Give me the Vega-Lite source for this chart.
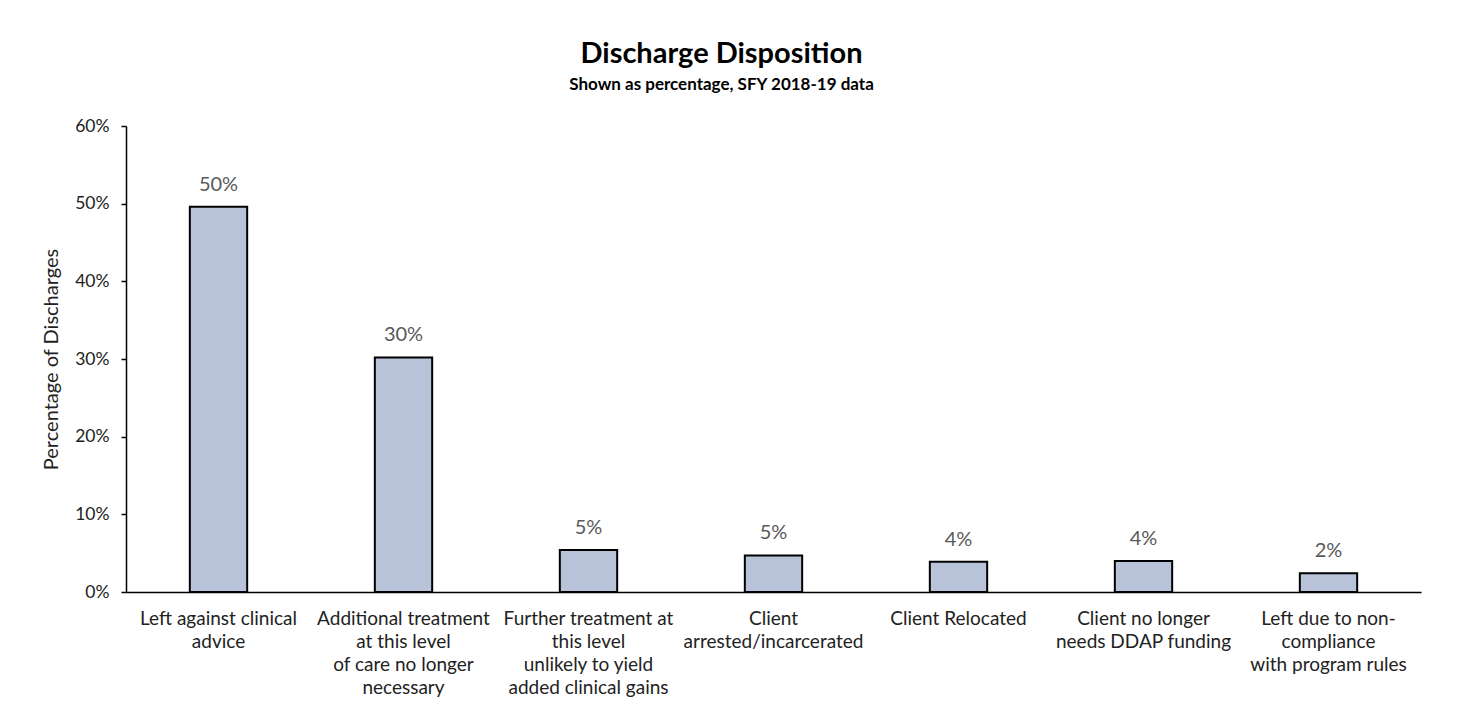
{
  "$schema": "https://vega.github.io/schema/vega-lite/v6.json",
  "autosize": {"type": "none"},
  "width": 1295,
  "height": 466,
  "padding": {"left": 126, "top": 126, "right": 40, "bottom": 131},
  "background": "white",
  "title": {
    "text": "Discharge Disposition",
    "subtitle": "Shown as percentage, SFY 2018-19 data",
    "anchor": "middle",
    "dx": -52,
    "offset": 24,
    "font": "Lato",
    "fontSize": 29,
    "fontWeight": "bold",
    "color": "#000000",
    "subtitleFont": "Lato",
    "subtitleFontSize": 17,
    "subtitleFontWeight": "bold",
    "subtitleColor": "#000000",
    "subtitlePadding": 8
  },
  "data": {
    "values": [
      {"reason": "Left against clinical|advice", "share": 0.496},
      {"reason": "Additional treatment|at this level|of care no longer|necessary", "share": 0.302},
      {"reason": "Further treatment at|this level|unlikely to yield|added clinical gains", "share": 0.054},
      {"reason": "Client|arrested/incarcerated", "share": 0.047},
      {"reason": "Client Relocated", "share": 0.039},
      {"reason": "Client no longer|needs DDAP funding", "share": 0.04},
      {"reason": "Left due to non-|compliance|with program rules", "share": 0.024}
    ]
  },
  "encoding": {
    "x": {
      "field": "reason",
      "type": "nominal",
      "sort": null,
      "scale": {"paddingInner": 0.69, "paddingOuter": 0.345},
      "axis": {
        "title": null,
        "labelAngle": 0,
        "labelExpr": "split(datum.value, '|')",
        "labelFont": "Lato",
        "labelFontSize": 19,
        "labelColor": "#222222",
        "labelLineHeight": 23,
        "labelPadding": 17,
        "labelLimit": 400,
        "ticks": false,
        "domainColor": "#000000",
        "domainWidth": 1.5,
        "grid": false
      }
    },
    "y": {
      "field": "share",
      "type": "quantitative",
      "scale": {"domain": [0, 0.6], "nice": false},
      "axis": {
        "title": "Percentage of Discharges",
        "titleFont": "Lato",
        "titleFontSize": 20,
        "titleFontWeight": "normal",
        "titleColor": "#222222",
        "titlePadding": 13,
        "values": [0, 0.1, 0.2, 0.3, 0.4, 0.5, 0.6],
        "format": ".0%",
        "labelFont": "Lato",
        "labelFontSize": 17.5,
        "labelColor": "#222222",
        "labelPadding": 12,
        "tickSize": 5,
        "tickColor": "#000000",
        "tickWidth": 1.5,
        "domainColor": "#000000",
        "domainWidth": 1.5,
        "grid": false
      }
    }
  },
  "layer": [
    {
      "mark": {"type": "bar", "fill": "#b8c2d8", "stroke": "#000000", "strokeWidth": 2}
    },
    {
      "mark": {"type": "text", "baseline": "bottom", "dy": -12, "font": "Lato", "fontSize": 20, "color": "#595959"},
      "encoding": {
        "text": {"field": "share", "type": "quantitative", "format": ".0%"}
      }
    }
  ],
  "config": {"view": {"stroke": null}}
}
